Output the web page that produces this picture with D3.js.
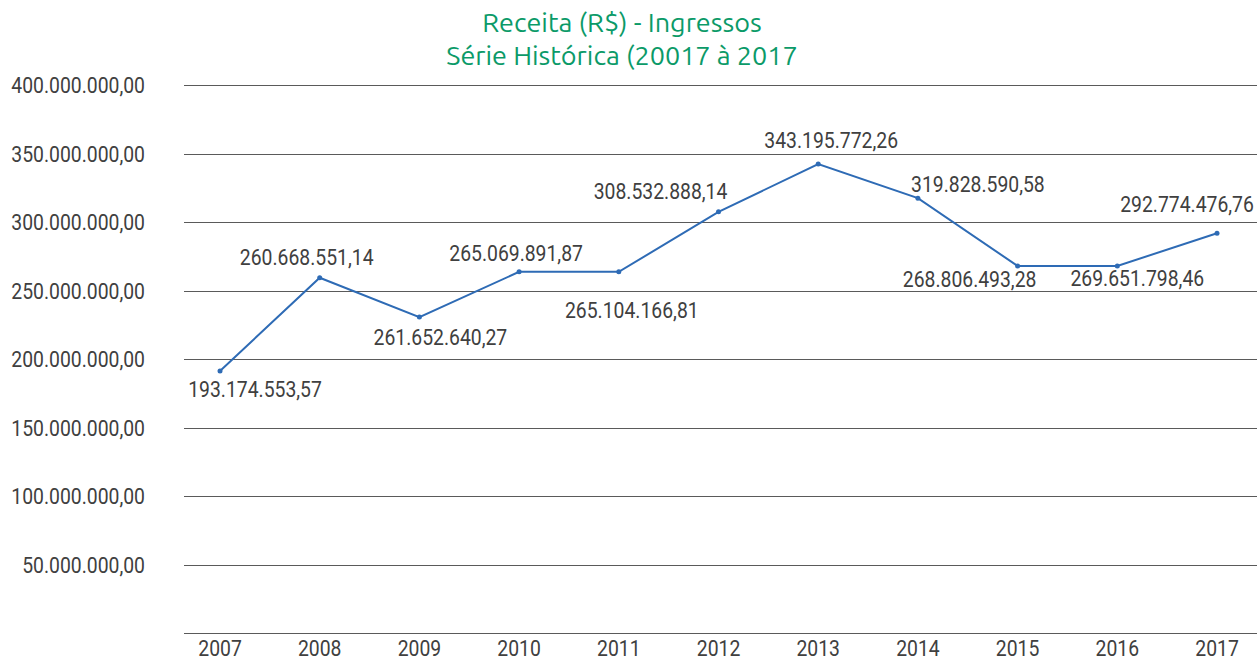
<!DOCTYPE html>
<html>
<head>
<meta charset="utf-8">
<script src="https://cdn.jsdelivr.net/npm/d3@7"></script>
<style>
  body { margin: 0; background: #fff; }
  svg { display: block; }
</style>
</head>
<body>
<svg id="chart" width="1257" height="662"></svg>
<script>
// dados
const years = ["2007","2008","2009","2010","2011","2012","2013","2014","2015","2016","2017"];
const values = [191.2e6, 259.3e6, 230.6e6, 263.6e6, 263.6e6, 307.4e6, 342.3e6, 317.4e6, 267.9e6, 267.9e6, 291.8e6];
const labels = ["193.174.553,57","260.668.551,14","261.652.640,27","265.069.891,87","265.104.166,81",
                "308.532.888,14","343.195.772,26","319.828.590,58","268.806.493,28","269.651.798,46","292.774.476,76"];
const yTicks = [0, 50e6, 100e6, 150e6, 200e6, 250e6, 300e6, 350e6, 400e6];

// posição de cada rótulo em relação ao ponto (dx, dy da linha de base)
const labelPos = [[35, 26], [-13, -13], [21, 28], [-3, -11], [13, 46], [-58, -13], [13, -16], [60, -6], [-48, 21], [20, 20], [-30, -21]];

const svg = d3.select("#chart");
const sx = 0.88; // fonte condensada

const x = d3.scalePoint().domain(years).range([220, 1217]);
const y = d3.scaleLinear().domain([0, 400e6]).range([633, 85]);

const fmt = v => d3.format(",.2f")(v).replace(/,/g, "#").replace(".", ",").replace(/#/g, ".");

// título
const title = svg.append("text")
    .attr("x", 622).attr("text-anchor", "middle")
    .style("font-family", "Ubuntu, 'Open Sans', sans-serif")
    .style("font-size", "27px")
    .style("fill", "#0b9a68");
title.append("tspan").attr("x", 622).attr("y", 32).text("Receita (R$) - Ingressos");
title.append("tspan").attr("x", 622).attr("y", 65).text("Série Histórica (20017 à 2017");

// grade
svg.append("g").selectAll("line")
    .data(yTicks)
    .join("line")
    .attr("x1", 184).attr("x2", 1257)
    .attr("y1", d => Math.round(y(d)) + 0.5)
    .attr("y2", d => Math.round(y(d)) + 0.5)
    .style("stroke", "#5a5a5a")
    .style("stroke-width", 1.2);

const textStyle = sel => sel
    .style("font-family", "Roboto, sans-serif")
    .style("font-size", "22px")
    .style("fill", "#404040");

// eixo y
svg.append("g").selectAll("text")
    .data(yTicks.filter(d => d > 0))
    .join("text")
    .attr("transform", d => `translate(145,${y(d) + 8}) scale(${sx},1)`)
    .attr("text-anchor", "end")
    .call(textStyle)
    .text(d => fmt(d));

// eixo x
svg.append("g").selectAll("text")
    .data(years)
    .join("text")
    .attr("transform", d => `translate(${x(d)},656) scale(${sx},1)`)
    .attr("text-anchor", "middle")
    .call(textStyle)
    .text(d => d);

// linha
const pts = years.map((d, i) => ({ year: d, value: values[i], label: labels[i], pos: labelPos[i] }));

svg.append("path")
    .datum(pts)
    .attr("d", d3.line().x(d => x(d.year)).y(d => y(d.value)))
    .style("fill", "none")
    .style("stroke", "#2e6bb5")
    .style("stroke-width", 2);

svg.append("g").selectAll("circle")
    .data(pts)
    .join("circle")
    .attr("cx", d => x(d.year))
    .attr("cy", d => y(d.value))
    .attr("r", 2.5)
    .style("fill", "#2e6bb5");

// rótulos
svg.append("g").selectAll("text")
    .data(pts)
    .join("text")
    .attr("transform", d => `translate(${x(d.year) + d.pos[0]},${y(d.value) + d.pos[1]}) scale(${sx},1)`)
    .attr("text-anchor", "middle")
    .call(textStyle)
    .text(d => d.label);
</script>
</body>
</html>
